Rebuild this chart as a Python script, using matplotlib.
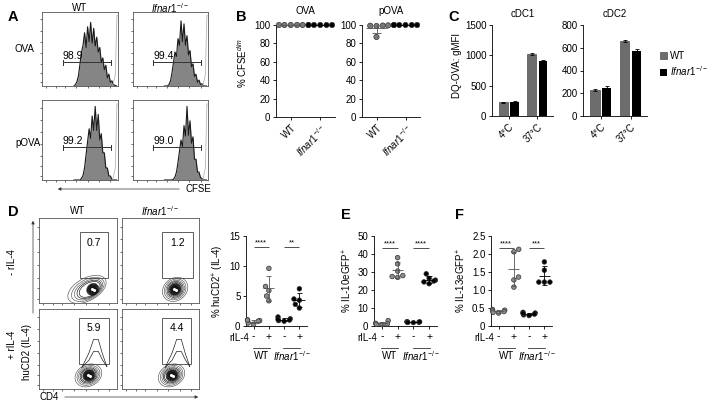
import matplotlib
matplotlib.use("Agg")
import matplotlib.pyplot as plt
from matplotlib.patches import Rectangle, Ellipse, Patch, FancyArrowPatch
from matplotlib import transforms
import numpy as np
import pandas as pd
import seaborn as sns

plt.rcParams["font.family"] = ["Liberation Sans", "DejaVu Sans"]
plt.rcParams["mathtext.fontset"] = "custom"
plt.rcParams["mathtext.rm"] = "Liberation Sans"
plt.rcParams["mathtext.it"] = "Liberation Sans:italic"
plt.rcParams["font.size"] = 7
plt.rcParams["axes.linewidth"] = 0.6
for a in ("xtick", "ytick"):
    plt.rcParams[a + ".major.width"] = 0.6
    plt.rcParams[a + ".major.size"] = 2.5
    plt.rcParams[a + ".major.pad"] = 1.5
    plt.rcParams[a + ".labelsize"] = 7

KO = r"$\mathit{Ifnar1}^{-/-}$"
GREY = "#7a7a7a"
FS = 7

# ---------------- data ----------------
# A: CFSE histograms (relative height sampled along CFSE axis)
cfse_x = np.linspace(0.42, 0.98, 29)
hist_wt_ova = [0, .02, .06, .14, .30, .46, .55, .72, .52, .80, .60, .86, .58, .78, .54,
               .66, .46, .52, .32, .38, .22, .28, .11, .16, .05, .07, .02, .01, 0]
hist_ko_ova = [0, 0, 0, .02, .07, .18, .32, .46, .40, .64, .55, .88, .60, .84, .55,
               .68, .42, .48, .26, .30, .13, .16, .05, .08, .02, .03, 0, 0, 0]
hist_wt_pova = [0, 0, 0, 0, 0, .02, .06, .15, .32, .48, .64, .52, .80, .62, .92,
                .62, .82, .50, .58, .34, .34, .15, .15, .05, .05, .01, 0, 0, 0]
hist_ko_pova = [0, 0, 0, 0, 0, 0, .01, .04, .10, .22, .36, .50, .42, .68, .55,
                .92, .56, .74, .46, .54, .26, .26, .10, .10, .03, .02, 0, 0, 0]
ctrl_x = [0.93, 0.965, 0.985, 1.0]
ctrl_h = [0, 0.15, 0.95, 0.95]
cfse_pct = ["98.9", "99.4", "99.2", "99.0"]

# B: % CFSE dim
ova_wt = [100, 100, 100, 100, 100]
ova_ko = [100, 100, 100, 100, 100, 100]
pova_wt = [99.6, 99.4, 99.2, 98.9, 87.0]
pova_ko = [100, 100, 100, 100, 100, 100]

# C: DQ-OVA gMFI
temps = ["4°C", "37°C"]
cdc1_wt, cdc1_wt_err = [230, 1020], [8, 15]
cdc1_ko, cdc1_ko_err = [235, 910], [10, 12]
cdc2_wt, cdc2_wt_err = [230, 660], [8, 12]
cdc2_ko, cdc2_ko_err = [250, 575], [12, 15]

# D flow: gate (x0, y0, x1, y1), gate %, population centre
flow_gates = [(0.53, 0.30, 0.88, 0.83), (0.52, 0.30, 0.92, 0.83),
              (0.51, 0.31, 0.90, 0.89), (0.52, 0.31, 0.90, 0.89)]
flow_pct = ["0.7", "1.2", "5.9", "4.4"]
pop_x = [0.69, 0.69, 0.64, 0.65]
pop_y = [0.16, 0.16, 0.17, 0.17]
pop_spread = [1.55, 1.0, 1.05, 1.05]
ring_w = [0.34, 0.29, 0.25, 0.215, 0.185, 0.16, 0.14, 0.12, 0.10, 0.085]
ring_h = [0.27, 0.235, 0.205, 0.18, 0.155, 0.135, 0.12, 0.105, 0.09, 0.075]
spike_x = [0.56, 0.65, 0.71, 0.77, 0.82, 0.88]
spike_outer = [0.27, 0.45, 0.62, 0.62, 0.45, 0.28]
spike_inner = [0.27, 0.36, 0.47, 0.47, 0.37, 0.28]

# D-F scatter
il4 = [[1.0, 0.9, 0.8, 0.5, 0.3, 1.0], [9.6, 6.6, 5.9, 5.0, 4.2],
       [1.5, 1.2, 1.0, 0.9, 1.1, 0.8], [6.2, 4.5, 4.3, 3.6, 3.0]]
il10 = [[3.0, 1.5, 1.2, 1.0, 0.8], [38.0, 34.5, 30.5, 28.0, 27.5, 27.0],
        [2.4, 2.2, 2.0, 2.1, 1.9, 2.3], [29.0, 26.5, 25.5, 24.5, 23.5, 25.0]]
il13 = [[0.46, 0.44, 0.42, 0.40, 0.36, 0.38], [2.13, 2.06, 1.36, 1.28, 1.08],
        [0.38, 0.36, 0.33, 0.31, 0.29, 0.35], [1.78, 1.55, 1.22, 1.22, 1.22]]

W, H = 709, 408
fig = plt.figure(figsize=(W / 100, H / 100), dpi=100)


def box(l, t, r, b):
    return fig.add_axes([l / W, 1 - b / H, (r - l) / W, (b - t) / H])


def ftext(x, y, s, **kw):
    fig.text(x / W, 1 - y / H, s, **kw)


def arrow(x0, y0, x1, y1):
    fig.add_artist(FancyArrowPatch((x0 / W, 1 - y0 / H), (x1 / W, 1 - y1 / H),
                                   transform=fig.transFigure, arrowstyle="-|>",
                                   mutation_scale=4.5, lw=0.5, color="#333333"))


def clean(ax):
    ax.spines["top"].set_visible(False)
    ax.spines["right"].set_visible(False)


def flow_ticks(ax):
    ax.set_xlim(0, 1)
    ax.set_ylim(0, 1)
    ax.set_xticks([0.05, 0.18, 0.3, 0.45, 0.6, 0.75, 0.9])
    ax.set_yticks([0.05, 0.18, 0.3, 0.45, 0.6, 0.75, 0.9])
    ax.tick_params(length=1.5, width=0.4, labelbottom=False, labelleft=False)
    for s in ax.spines.values():
        s.set_color("#555555")


# ---------------- A ----------------
hist_axes = [box(42, 12, 118, 86), box(133, 12, 208, 86),
             box(42, 100, 118, 180), box(133, 100, 208, 180)]
hists = [hist_wt_ova, hist_ko_ova, hist_wt_pova, hist_ko_pova]
gate_y = [0.32, 0.32, 0.41, 0.41]
for ax, h, pct, gy in zip(hist_axes, hists, cfse_pct, gate_y):
    ax.fill_between(cfse_x, h, color="#858585", lw=0)
    ax.plot(cfse_x, h, color="#1a1a1a", lw=0.8)
    ax.plot(ctrl_x, ctrl_h, color="#b5b5b5", lw=0.6)
    ax.plot([0.27, 0.91], [gy, gy], color="#333333", lw=0.7)
    ax.plot([0.27, 0.27], [gy - 0.03, gy + 0.03], color="#333333", lw=0.7)
    ax.plot([0.91, 0.91], [gy - 0.03, gy + 0.03], color="#333333", lw=0.7)
    ax.text(0.27, gy + 0.015, pct, fontsize=7.5, va="bottom")
    flow_ticks(ax)

ftext(80, 8, "WT", ha="center", va="center", fontsize=FS)
ftext(170, 8, KO, ha="center", va="center", fontsize=FS)
ftext(15, 49, "OVA", ha="left", va="center", fontsize=FS)
ftext(15, 143, "pOVA", ha="left", va="center", fontsize=FS)
arrow(182, 189, 55, 189)
ftext(185, 189, "CFSE", ha="left", va="center", fontsize=FS)


# ---------------- B ----------------
def swarm(ax, groups, names, colors, size):
    df = pd.DataFrame({"g": np.repeat(names, [len(v) for v in groups]),
                       "v": np.concatenate(groups)})
    sns.swarmplot(data=df, x="g", y="v", order=names, hue="g",
                  palette=dict(zip(names, colors)), size=size, edgecolor="#333333",
                  linewidth=0.5, ax=ax, legend=False, warn_thresh=1)
    for c in ax.collections:
        c.set_clip_on(False)
    for i, (vals, col) in enumerate(zip(groups, colors)):
        m, s = np.mean(vals), np.std(vals, ddof=1)
        lc = "#555555" if col != "black" else "black"
        ax.hlines(m, i - 0.36, i + 0.36, color=lc, lw=0.6, zorder=4)
        if s > 0:
            ax.vlines(i, m - s, m + s, color=lc, lw=0.6, zorder=4)
            ax.hlines([m - s, m + s], i - 0.17, i + 0.17, color=lc, lw=0.6, zorder=4)
    ax.set_xlabel("")
    ax.set_ylabel("")


b_axes = [box(276, 25, 335, 117), box(362, 25, 420, 117)]
for ax, grp, title in zip(b_axes, [[ova_wt, ova_ko], [pova_wt, pova_ko]], ["OVA", "pOVA"]):
    swarm(ax, grp, ["WT", "KO"], [GREY, "black"], 3.8)
    ax.set_ylim(0, 100)
    ax.set_xlim(-0.5, 1.5)
    ax.set_yticks([0, 20, 40, 60, 80, 100])
    ax.set_xticks([0, 1])
    ax.set_xticklabels(["WT", KO], rotation=45, ha="right", rotation_mode="anchor")
    ax.set_title(title, fontsize=FS, pad=8)
    clean(ax)
ftext(242, 63, r"% CFSE$^{dim}$", rotation=90, ha="center", va="center", fontsize=FS)

# ---------------- C ----------------
c_axes = [box(492, 25, 553, 116), box(583, 25, 647, 116)]
c_sets = [(cdc1_wt, cdc1_wt_err, cdc1_ko, cdc1_ko_err, [0, 500, 1000, 1500], "cDC1"),
          (cdc2_wt, cdc2_wt_err, cdc2_ko, cdc2_ko_err, [0, 200, 400, 600, 800], "cDC2")]
xg = np.arange(len(temps))
for ax, (wt, wte, ko, koe, yt, title) in zip(c_axes, c_sets):
    ek = dict(lw=0.6, capthick=0.6)
    ax.bar(xg - 0.2, wt, 0.31, yerr=wte, color="#6d6d6d", edgecolor="#333333", lw=0.4,
           capsize=1.5, error_kw=ek)
    ax.bar(xg + 0.2, ko, 0.31, yerr=koe, color="black", capsize=1.5, error_kw=ek)
    ax.set_ylim(0, yt[-1])
    ax.set_yticks(yt)
    ax.set_xlim(-0.6, 1.55)
    ax.set_xticks(xg)
    ax.set_xticklabels(temps, rotation=45, ha="right", rotation_mode="anchor")
    ax.set_title(title, fontsize=FS, pad=6)
    clean(ax)
ftext(457, 65, "DQ-OVA: gMFI", rotation=90, ha="center", va="center", fontsize=FS)
fig.legend(handles=[Patch(fc="#6d6d6d", ec="#333333", lw=0.4), Patch(fc="black")],
           labels=["WT", KO], loc="upper left", bbox_to_anchor=(660 / W, 1 - 51 / H),
           frameon=False, handlelength=0.7, handleheight=0.7, handletextpad=0.35,
           labelspacing=0.3, fontsize=FS, borderpad=0, borderaxespad=0)

# ---------------- D flow ----------------
flow_axes = [box(39, 218, 117, 303), box(122, 218, 199, 303),
             box(39, 309, 117, 389), box(122, 309, 199, 389)]
for k, ax in enumerate(flow_axes):
    x0, y0, x1, y1 = flow_gates[k]
    for j, (rw, rh) in enumerate(zip(ring_w, ring_h)):
        sc = pop_spread[k] if j < 5 else 1.0
        shift = -(sc - 1) * rw * 0.4
        ax.add_patch(Ellipse((pop_x[k] + shift, pop_y[k]), rw * sc, rh, angle=25,
                             fill=False, ec="#111111" if j > 2 else "#555555",
                             lw=0.45 if j < 6 else 0.7))
    ax.add_patch(Ellipse((pop_x[k], pop_y[k]), 0.075, 0.065, angle=25, color="#151515"))
    ax.plot([pop_x[k] - 0.012, pop_x[k] + 0.015], [pop_y[k] + 0.005, pop_y[k] - 0.005],
            "o", ms=1.2, color="white")
    if k >= 2:
        sx = np.array(spike_x) - 0.65 + pop_x[k]
        ax.plot(sx, spike_outer, color="#222222", lw=0.5)
        ax.plot(sx, spike_inner, color="#222222", lw=0.5)
    ax.add_patch(Rectangle((x0, y0), x1 - x0, y1 - y0, fill=False, ec="#444444", lw=0.6))
    ax.text((x0 + x1) / 2, y1 - 0.06, flow_pct[k], ha="center", va="top", fontsize=7.5)
    flow_ticks(ax)

ftext(78, 211, "WT", ha="center", va="center", fontsize=FS)
ftext(160, 211, KO, ha="center", va="center", fontsize=FS)
ftext(12, 262, "- rIL-4", rotation=90, ha="center", va="center", fontsize=FS)
ftext(12, 345, "+ rIL-4", rotation=90, ha="center", va="center", fontsize=FS)
ftext(27, 352, "huCD2 (IL-4)", rotation=90, ha="center", va="center", fontsize=FS)
ftext(40, 397, "CD4", ha="left", va="center", fontsize=FS)
arrow(62, 397, 201, 397)
arrow(33, 316, 33, 218)

# ---------------- D-F scatter ----------------
names4 = ["WT-", "WT+", "KO-", "KO+"]
cols4 = ["#8c8c8c", "#8c8c8c", "black", "black"]
panels = [
    (box(246, 236, 307, 326), il4, [0, 5, 10, 15], ["0", "5", "10", "15"], ["****", "**"], 13.2,
     r"% huCD2$^{+}$ (IL-4)"),
    (box(374, 236, 437, 326), il10, [0, 10, 20, 30, 40, 50], ["0", "10", "20", "30", "40", "50"],
     ["****", "****"], 43.5, r"% IL-10eGFP$^{+}$"),
    (box(491, 236, 552, 326), il13, [0, 0.5, 1.0, 1.5, 2.0, 2.5],
     ["0", "0.5", "1.0", "1.5", "2.0", "2.5"], ["****", "***"], 2.17, r"% IL-13eGFP$^{+}$"),
]
for ax, vals, yt, ytl, stars, sy, ylab in panels:
    swarm(ax, vals, names4, cols4, 3.3)
    ax.set_ylim(0, yt[-1])
    ax.set_yticks(yt)
    ax.set_yticklabels(ytl)
    ax.set_xlim(-0.5, 3.5)
    ax.set_xticks(range(4))
    ax.set_xticklabels(["-", "+", "-", "+"], fontsize=7.5)
    ax.set_ylabel(ylab, fontsize=FS, labelpad=3)
    clean(ax)
    tr = transforms.blended_transform_factory(ax.transData, ax.transAxes)
    ax.text(-0.3, -0.13, "rIL-4", transform=tr, ha="right", va="center", fontsize=FS)
    for gi, (lab, st) in enumerate(zip(["WT", KO], stars)):
        c = gi * 2 + 0.5
        ax.plot([c - 0.55, c + 0.55], [-0.245, -0.245], transform=tr, color="#333333", lw=0.6,
                clip_on=False)
        ax.text(c, -0.33, lab, transform=tr, ha="center", va="center", fontsize=FS)
        ax.hlines(sy, c - 0.5, c + 0.5, color="#333333", lw=0.6)
        ax.text(c, sy, st, ha="center", va="bottom", fontsize=5.5)

# panel letters
for s, x, y in [("A", 8, 17), ("B", 236, 17), ("C", 448, 17), ("D", 8, 212),
                ("E", 341, 215), ("F", 455, 215)]:
    ftext(x, y, s, fontsize=10.5, fontweight="bold", ha="left", va="center")

fig.savefig("out.png", dpi=100)
